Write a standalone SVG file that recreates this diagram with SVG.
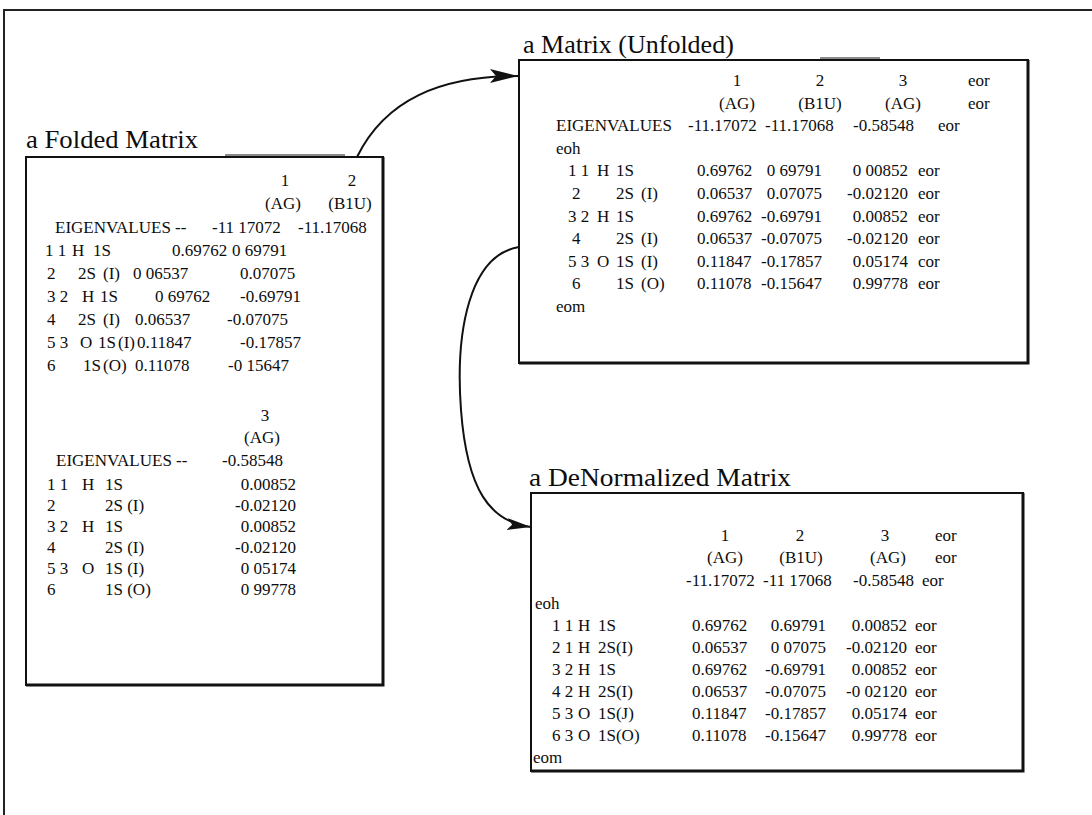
<svg xmlns="http://www.w3.org/2000/svg" width="1092" height="815" viewBox="0 0 1092 815">
  <style>
    .t { font-family: "Liberation Serif", "Times New Roman", serif; font-size: 17px; fill: #0d0d0d; }
    .ttl { font-family: "Liberation Serif", "Times New Roman", serif; font-size: 26px; fill: #0d0d0d; }
    .m { text-anchor: middle; }
    .e { text-anchor: end; }
    .box { fill: #fff; stroke: #111; stroke-width: 2; }
    .edge { fill: none; stroke: #111; stroke-width: 3; }
    .wire { fill: none; stroke: #111; stroke-width: 2; }
    .smudge { stroke: #8a8a8a; stroke-width: 2; }
  </style>
  <defs>
    <marker id="head" viewBox="0 0 28 14" refX="28" refY="7" markerWidth="28" markerHeight="14" markerUnits="userSpaceOnUse" orient="auto">
      <path d="M0,0 L28,7 L0,14 L6,7 z" fill="#111"/>
    </marker>
    <marker id="headSmall" viewBox="0 0 24 12" refX="24" refY="6" markerWidth="24" markerHeight="12" markerUnits="userSpaceOnUse" orient="auto">
      <path d="M0,0 L24,6 L0,12 L5,6 z" fill="#111"/>
    </marker>
  </defs>

  <rect width="1092" height="815" fill="#fff"/>

  <!-- page frame -->
  <path d="M3,10 H1092 M4,10 V815" fill="none" stroke="#222" stroke-width="2"/>

  <!-- folded matrix -->
  <g id="folded">
    <text class="ttl" x="26" y="148" textLength="172" lengthAdjust="spacingAndGlyphs">a Folded Matrix</text>
    <rect class="box" x="26" y="157" width="357" height="528"/>
    <path class="edge" d="M383,157 V685 H26"/>
    <line class="smudge" x1="225" y1="155" x2="345" y2="155"/>
    <text class="t m" x="285" y="186">1</text>
    <text class="t m" x="352" y="186">2</text>
    <text class="t m" x="283" y="209">(AG)</text>
    <text class="t m" x="350" y="209">(B1U)</text>
    <text class="t" x="55" y="233">EIGENVALUES --</text>
    <text class="t" x="212" y="233">-11 17072</text>
    <text class="t" x="298" y="233">-11.17068</text>

    <text class="t" x="45" y="256">1 1</text><text class="t" x="72" y="256">H</text><text class="t" x="93" y="256">1S</text>
    <text class="t" x="172" y="256">0.69762</text><text class="t" x="232" y="256">0 69791</text>

    <text class="t" x="47" y="279">2</text><text class="t" x="78" y="279">2S</text><text class="t" x="103" y="279">(I)</text>
    <text class="t" x="133" y="279">0 06537</text><text class="t" x="240" y="279">0.07075</text>

    <text class="t" x="47" y="302">3 2</text><text class="t" x="82" y="302">H</text><text class="t" x="100" y="302">1S</text>
    <text class="t" x="155" y="302">0 69762</text><text class="t" x="240" y="302">-0.69791</text>

    <text class="t" x="47" y="325">4</text><text class="t" x="78" y="325">2S</text><text class="t" x="103" y="325">(I)</text>
    <text class="t" x="135" y="325">0.06537</text><text class="t" x="227" y="325">-0.07075</text>

    <text class="t" x="47" y="348">5 3</text><text class="t" x="80" y="348">O</text><text class="t" x="98" y="348">1S</text><text class="t" x="118" y="348">(I)</text>
    <text class="t" x="137" y="348">0.11847</text><text class="t" x="240" y="348">-0.17857</text>

    <text class="t" x="47" y="371">6</text><text class="t" x="83" y="371">1S</text><text class="t" x="103" y="371">(O)</text>
    <text class="t" x="135" y="371">0.11078</text><text class="t" x="228" y="371">-0 15647</text>

    <text class="t m" x="265" y="421">3</text>
    <text class="t m" x="262" y="443">(AG)</text>
    <text class="t" x="56" y="466">EIGENVALUES --</text>
    <text class="t" x="222" y="466">-0.58548</text>

    <text class="t" x="47" y="490">1 1</text><text class="t" x="82" y="490">H</text><text class="t" x="105" y="490">1S</text>
    <text class="t e" x="296" y="490">0.00852</text>
    <text class="t" x="47" y="511">2</text><text class="t" x="105" y="511">2S  (I)</text>
    <text class="t e" x="296" y="511">-0.02120</text>
    <text class="t" x="47" y="532">3 2</text><text class="t" x="82" y="532">H</text><text class="t" x="105" y="532">1S</text>
    <text class="t e" x="296" y="532">0.00852</text>
    <text class="t" x="47" y="553">4</text><text class="t" x="105" y="553">2S  (I)</text>
    <text class="t e" x="296" y="553">-0.02120</text>
    <text class="t" x="47" y="574">5 3</text><text class="t" x="82" y="574">O</text><text class="t" x="105" y="574">1S  (I)</text>
    <text class="t e" x="296" y="574">0 05174</text>
    <text class="t" x="47" y="595">6</text><text class="t" x="105" y="595">1S  (O)</text>
    <text class="t e" x="296" y="595">0 99778</text>
  </g>

  <!-- unfolded matrix -->
  <g id="unfolded">
    <text class="ttl" x="523" y="53">a Matrix (Unfolded)</text>
    <rect class="box" x="519" y="60" width="509" height="303"/>
    <path class="edge" d="M1028,60 V363 H519"/>
    <line class="smudge" x1="820" y1="58" x2="880" y2="58"/>
    <text class="t m" x="737" y="86">1</text><text class="t m" x="820" y="86">2</text><text class="t m" x="903" y="86">3</text><text class="t" x="968" y="86">eor</text>
    <text class="t m" x="737" y="109">(AG)</text><text class="t m" x="820" y="109">(B1U)</text><text class="t m" x="903" y="109">(AG)</text><text class="t" x="968" y="109">eor</text>
    <text class="t" x="556" y="131">EIGENVALUES</text><text class="t" x="688" y="131">-11.17072</text><text class="t" x="765" y="131">-11.17068</text><text class="t" x="853" y="131">-0.58548</text><text class="t" x="938" y="131">eor</text>
    <text class="t" x="556" y="154">eoh</text>

    <text class="t" x="568" y="176">1 1</text><text class="t" x="597" y="176">H</text><text class="t" x="616" y="176">1S</text>
    <text class="t" x="697" y="176">0.69762</text><text class="t e" x="822" y="176">0 69791</text><text class="t e" x="908" y="176">0 00852</text><text class="t" x="918" y="176">eor</text>

    <text class="t" x="572" y="199">2</text><text class="t" x="616" y="199">2S</text><text class="t" x="641" y="199">(I)</text>
    <text class="t" x="697" y="199">0.06537</text><text class="t e" x="822" y="199">0.07075</text><text class="t e" x="908" y="199">-0.02120</text><text class="t" x="918" y="199">eor</text>

    <text class="t" x="568" y="222">3 2</text><text class="t" x="597" y="222">H</text><text class="t" x="616" y="222">1S</text>
    <text class="t" x="697" y="222">0.69762</text><text class="t e" x="822" y="222">-0.69791</text><text class="t e" x="908" y="222">0.00852</text><text class="t" x="918" y="222">eor</text>

    <text class="t" x="572" y="244">4</text><text class="t" x="616" y="244">2S</text><text class="t" x="641" y="244">(I)</text>
    <text class="t" x="697" y="244">0.06537</text><text class="t e" x="822" y="244">-0.07075</text><text class="t e" x="908" y="244">-0.02120</text><text class="t" x="918" y="244">eor</text>

    <text class="t" x="568" y="267">5 3</text><text class="t" x="597" y="267">O</text><text class="t" x="616" y="267">1S</text><text class="t" x="641" y="267">(I)</text>
    <text class="t" x="697" y="267">0.11847</text><text class="t e" x="822" y="267">-0.17857</text><text class="t e" x="908" y="267">0.05174</text><text class="t" x="918" y="267">cor</text>

    <text class="t" x="572" y="289">6</text><text class="t" x="616" y="289">1S</text><text class="t" x="641" y="289">(O)</text>
    <text class="t" x="697" y="289">0.11078</text><text class="t e" x="822" y="289">-0.15647</text><text class="t e" x="908" y="289">0.99778</text><text class="t" x="918" y="289">eor</text>

    <text class="t" x="556" y="312">eom</text>
  </g>

  <!-- denormalized matrix -->
  <g id="denormalized">
    <text class="ttl" x="529" y="486" textLength="262" lengthAdjust="spacingAndGlyphs">a  DeNormalized Matrix</text>
    <rect class="box" x="531" y="493" width="492" height="278"/>
    <path class="edge" d="M1023,493 V771 H531"/>
    <text class="t m" x="725" y="541">1</text><text class="t m" x="800" y="541">2</text><text class="t m" x="885" y="541">3</text><text class="t" x="935" y="541">eor</text>
    <text class="t m" x="725" y="563">(AG)</text><text class="t m" x="801" y="563">(B1U)</text><text class="t m" x="888" y="563">(AG)</text><text class="t" x="935" y="563">eor</text>
    <text class="t" x="686" y="586">-11.17072</text><text class="t" x="763" y="586">-11 17068</text><text class="t" x="853" y="586">-0.58548</text><text class="t" x="922" y="586">eor</text>
    <text class="t" x="535" y="609">eoh</text>

    <text class="t" x="552" y="631">1 1</text><text class="t" x="578" y="631">H</text><text class="t" x="598" y="631">1S</text>
    <text class="t" x="692" y="631">0.69762</text><text class="t e" x="826" y="631">0.69791</text><text class="t e" x="907" y="631">0.00852</text><text class="t" x="915" y="631">eor</text>

    <text class="t" x="552" y="653">2 1</text><text class="t" x="578" y="653">H</text><text class="t" x="598" y="653">2S(I)</text>
    <text class="t" x="692" y="653">0.06537</text><text class="t e" x="826" y="653">0 07075</text><text class="t e" x="907" y="653">-0.02120</text><text class="t" x="915" y="653">eor</text>

    <text class="t" x="552" y="675">3 2</text><text class="t" x="578" y="675">H</text><text class="t" x="598" y="675">1S</text>
    <text class="t" x="692" y="675">0.69762</text><text class="t e" x="826" y="675">-0.69791</text><text class="t e" x="907" y="675">0.00852</text><text class="t" x="915" y="675">eor</text>

    <text class="t" x="552" y="697">4 2</text><text class="t" x="578" y="697">H</text><text class="t" x="598" y="697">2S(I)</text>
    <text class="t" x="692" y="697">0.06537</text><text class="t e" x="826" y="697">-0.07075</text><text class="t e" x="907" y="697">-0 02120</text><text class="t" x="915" y="697">eor</text>

    <text class="t" x="552" y="719">5 3</text><text class="t" x="578" y="719">O</text><text class="t" x="598" y="719">1S(J)</text>
    <text class="t" x="692" y="719">0.11847</text><text class="t e" x="826" y="719">-0.17857</text><text class="t e" x="907" y="719">0.05174</text><text class="t" x="915" y="719">eor</text>

    <text class="t" x="552" y="741">6 3</text><text class="t" x="578" y="741">O</text><text class="t" x="598" y="741">1S(O)</text>
    <text class="t" x="692" y="741">0.11078</text><text class="t e" x="826" y="741">-0.15647</text><text class="t e" x="907" y="741">0.99778</text><text class="t" x="915" y="741">eor</text>

    <text class="t" x="533" y="763">eom</text>
  </g>

  <!-- connectors -->
  <g id="connectors">
    <path class="wire" d="M357,157 C385,100 440,76 518,76" marker-end="url(#head)"/>
    <path class="wire" d="M519,247 C470,255 455,330 461,410 C467,490 490,522 531,527" marker-end="url(#headSmall)"/>
  </g>
</svg>
